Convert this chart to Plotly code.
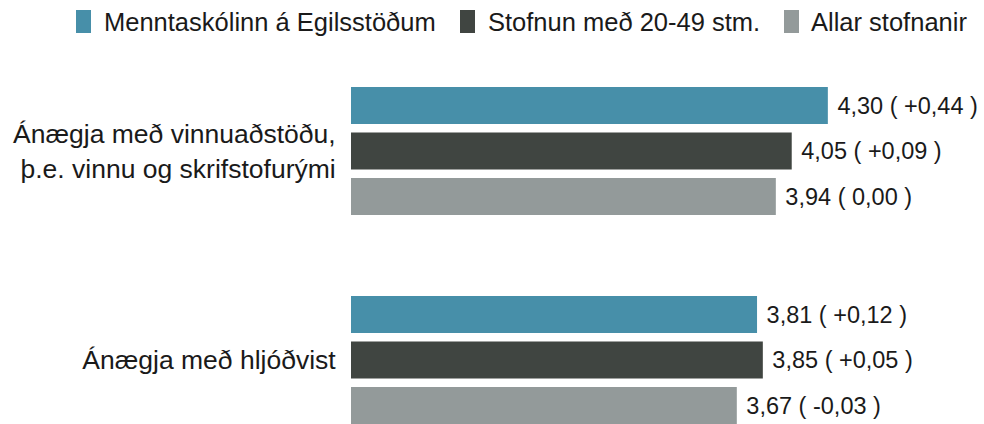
import plotly.graph_objects as go

# ---- data ----
categories = ["Ánægja með vinnuaðstöðu,<br>þ.e. vinnu og skrifstofurými", "Ánægja með hljóðvist"]
series_names = ["Menntaskólinn á Egilsstöðum", "Stofnun með 20-49 stm.", "Allar stofnanir"]
values_menntaskolinn = [4.30, 3.81]
values_stofnun = [4.05, 3.85]
values_allar = [3.94, 3.67]
diff_menntaskolinn = [0.44, 0.12]
diff_stofnun = [0.09, 0.05]
diff_allar = [0.00, -0.03]

colors = ["#478FA9", "#404541", "#939A9A"]

W, H = 984, 424
ML, MR, MT, MB = 351, 55, 75, 0
FONT = "Liberation Sans, Arial, Helvetica, sans-serif"


def fmt(v, d):
    vs = f"{v:.2f}".replace(".", ",")
    if abs(d) < 1e-9:
        ds = "0,00"
    else:
        ds = f"{d:+.2f}".replace(".", ",")
    return f"\u00a0{vs} ( {ds} )"


def px2x(px):
    return (px - ML) / (W - ML - MR)


def py2y(py):
    return (H - MB - py) / (H - MT - MB)


fig = go.Figure()
for name, vals, diffs, col in zip(
    series_names,
    [values_menntaskolinn, values_stofnun, values_allar],
    [diff_menntaskolinn, diff_stofnun, diff_allar],
    colors,
):
    fig.add_trace(go.Bar(
        y=categories, x=vals, orientation="h", name=name,
        marker=dict(color=col, line=dict(width=0)),
        text=[fmt(v, d) for v, d in zip(vals, diffs)],
        textposition="outside", cliponaxis=False,
        textfont=dict(family=FONT, size=23.5, color="#1a1a1a"),
        showlegend=False, hoverinfo="skip",
    ))

# custom legend (swatches + labels)
leg_sw_x = [76, 460, 784]
leg_tx_x = [102, 486, 809]
shapes = []
annotations = []
for name, col, sx, tx in zip(series_names, colors, leg_sw_x, leg_tx_x):
    shapes.append(dict(type="rect", xref="paper", yref="paper",
                       x0=px2x(sx), x1=px2x(sx + 15), y0=py2y(33), y1=py2y(10),
                       fillcolor=col, line=dict(width=0)))
    annotations.append(dict(text=name, xref="paper", yref="paper",
                            x=px2x(tx), y=py2y(22), xanchor="left", yanchor="middle",
                            showarrow=False,
                            font=dict(family=FONT, size=25.5, color="#1a1a1a")))

fig.update_layout(
    width=W, height=H,
    margin=dict(l=ML, r=MR, t=MT, b=MB, pad=0),
    barmode="group", bargap=0.347, bargroupgap=0.187,
    plot_bgcolor="white", paper_bgcolor="white",
    shapes=shapes, annotations=annotations,
    xaxis=dict(range=[1, 5], visible=False, showgrid=False, zeroline=False),
    yaxis=dict(range=[1.306, -0.364], showgrid=False, zeroline=False, showline=False,
               ticks="outside", ticklen=9, tickcolor="rgba(0,0,0,0)",
               tickfont=dict(family=FONT, size=26.5, color="#1a1a1a")),
    font=dict(family=FONT),
)

fig.write_html("out.html", config={"displayModeBar": False},
               post_script="document.body.style.margin='0';document.body.style.overflow='hidden';")
